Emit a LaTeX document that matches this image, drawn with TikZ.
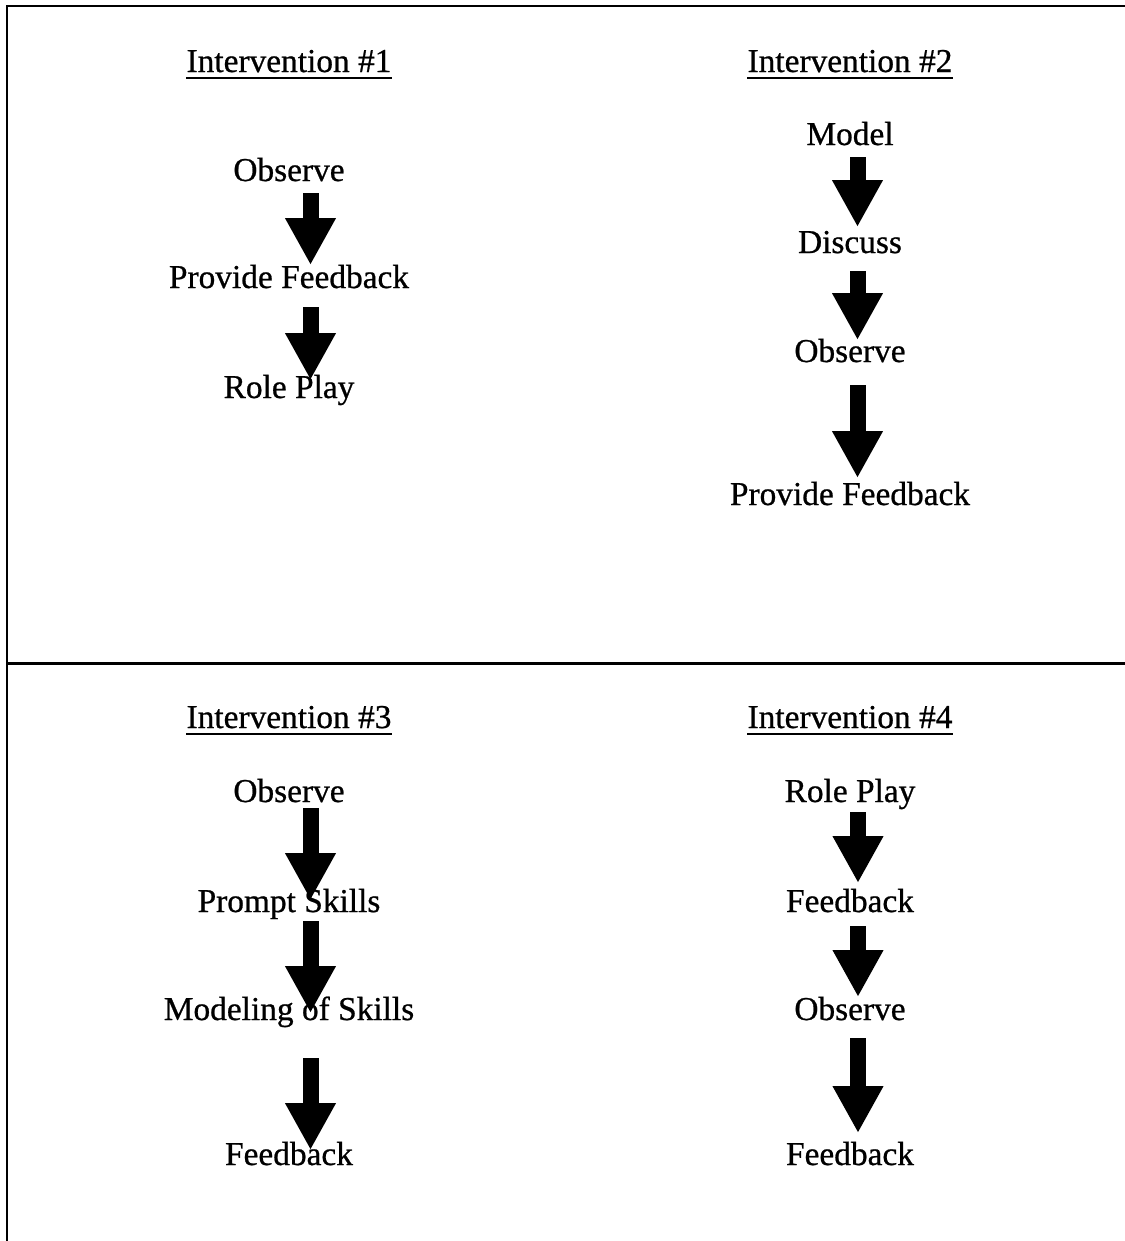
\documentclass[tikz,border=0pt]{standalone}
\usepackage{fontspec}
\setmainfont{Liberation Serif}[FakeBold=0.7]
\usetikzlibrary{calc,arrows.meta}
\tikzset{
	px/.style={x=0.02cm,y=-0.02cm},
	frame/.style={line width=1.7pt},
	head/.style={anchor=base,inner sep=0pt,font=\fontsize{19}{23}\selectfont},
	stage/.style={anchor=base,inner sep=0pt,font=\fontsize{19}{23}\selectfont},
	uline/.style={line width=1.4pt},
	blk/.style={line width=0.32cm,-{Triangle[width=0.95cm,length=0.94cm]}}
}
% block arrow from #2 down to #3 at x=#4
\newcommand{\stepdown}[4]{
	\coordinate (s#1) at (#4,#2);
	\coordinate (t#1) at (#4,#3);
	\draw[blk] (s#1) -- (t#1);
}
\newcommand{\heading}[4]{
	\node[head] (#1) at (#2,#3) {#4};
	\draw[uline] ($(#1.base west)+(0,6)$) -- ($(#1.base east)+(0,6)$);
}
\begin{document}
\begin{tikzpicture}[px]
	\useasboundingbox (0,0) rectangle (1125,1241);
	% frame
	\draw[frame] (1125,6) -- (7,6) -- (7,1241);
	\draw[frame] (7,663) -- (1125,663);

	% Intervention 1
	\heading{h1}{289}{72}{Intervention \#1}
		\node[stage] (a1) at (289,181) {Observe};
		\node[stage] (a2) at (289,288) {Provide Feedback};
		\node[stage] (a3) at (289,398) {Role Play};
		\stepdown{a12}{193}{265}{310.5}
		\stepdown{a23}{307}{380}{310.5}

	% Intervention 2
	\heading{h2}{850}{72}{Intervention \#2}
		\node[stage] (b1) at (850,145) {Model};
		\node[stage] (b2) at (850,253) {Discuss};
		\node[stage] (b3) at (850,362) {Observe};
		\node[stage] (b4) at (850,505) {Provide Feedback};
		\stepdown{b12}{157}{227}{857.5}
		\stepdown{b23}{271}{340}{857.5}
		\stepdown{b34}{385}{478}{857.5}

	% Intervention 3
	\heading{h3}{289}{728}{Intervention \#3}
		\node[stage] (c1) at (289,802) {Observe};
		\node[stage] (c2) at (289,912) {Prompt Skills};
		\node[stage] (c3) at (289,1020) {Modeling of Skills};
		\node[stage] (c4) at (289,1165) {Feedback};
		\stepdown{c12}{808}{900}{310.5}
		\stepdown{c23}{921}{1013}{310.5}
		\stepdown{c34}{1058}{1150}{310.5}

	% Intervention 4
	\heading{h4}{850}{728}{Intervention \#4}
		\node[stage] (d1) at (850,802) {Role Play};
		\node[stage] (d2) at (850,912) {Feedback};
		\node[stage] (d3) at (850,1020) {Observe};
		\node[stage] (d4) at (850,1165) {Feedback};
		\stepdown{d12}{812}{883}{858}
		\stepdown{d23}{926}{997}{858}
		\stepdown{d34}{1038}{1133}{858}
\end{tikzpicture}
\end{document}
